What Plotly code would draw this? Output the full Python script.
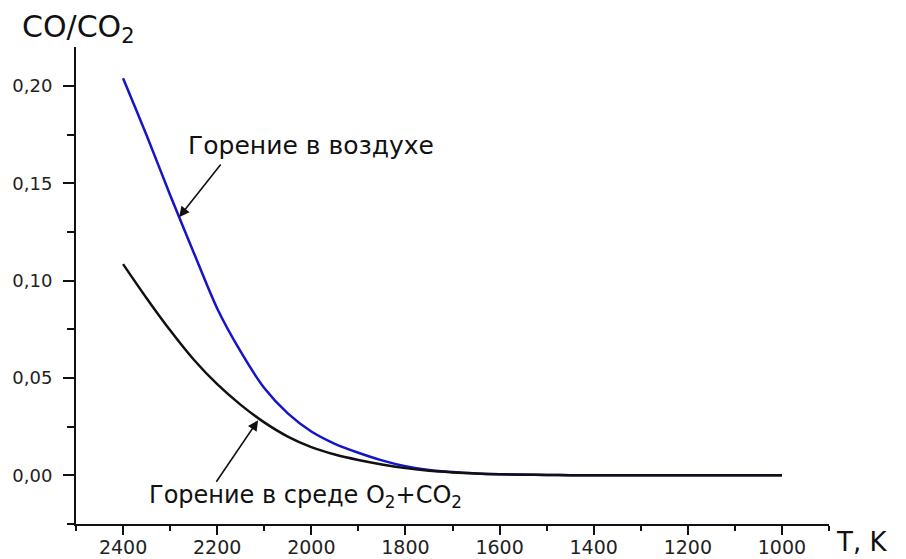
import plotly.graph_objects as go

T = [2400, 2350, 2300, 2250, 2200, 2150, 2100, 2050, 2000, 1950, 1900, 1850, 1800,
     1750, 1700, 1650, 1600, 1550, 1500, 1450, 1400, 1350, 1300, 1250, 1200, 1150,
     1100, 1050, 1000]
co_air = [0.204, 0.1747, 0.144, 0.1145, 0.0857, 0.0635, 0.0448, 0.0318, 0.0225, 0.0162,
          0.0116, 0.0077, 0.0047, 0.0028, 0.0017, 0.0010, 0.0006, 0.0004, 0.0002, 0.0001,
          0.00005, 0.00003, 0.00002, 0.00001, 0.0, 0.0, 0.0, 0.0, 0.0]
co_o2co2 = [0.1085, 0.091, 0.0745, 0.0595, 0.0468, 0.0362, 0.0272, 0.0199, 0.0145, 0.0107,
            0.0079, 0.0056, 0.0037, 0.0023, 0.0015, 0.0009, 0.0005, 0.0003, 0.0002, 0.0001,
            0.00005, 0.00003, 0.00002, 0.00001, 0.0, 0.0, 0.0, 0.0, 0.0]

x_ticks = [2400, 2200, 2000, 1800, 1600, 1400, 1200, 1000]
y_ticks = [0.00, 0.05, 0.10, 0.15, 0.20]

label_air = "Горение в воздухе"
label_o2 = "Горение в среде O<sub>2</sub>+CO<sub>2</sub>"
y_title = "CO/CO<sub>2</sub>"
x_title = "T, K"

FONT = "DejaVu Sans"

fig = go.Figure()
fig.add_trace(go.Scatter(x=T, y=co_air, mode="lines",
                         line=dict(color="#1414c8", width=2.5, shape="spline", smoothing=0.8),
                         showlegend=False))
fig.add_trace(go.Scatter(x=T, y=co_o2co2, mode="lines",
                         line=dict(color="#111111", width=2.5, shape="spline", smoothing=0.8),
                         showlegend=False))

axis_common = dict(showgrid=False, zeroline=False, showline=True, linecolor="#111111",
                   linewidth=2, ticks="outside", tickcolor="#111111", tickwidth=2,
                   automargin=False)

fig.update_xaxes(range=[2500, 900], tickvals=x_ticks, tickformat="d", ticklen=9,
                 ticklabelstandoff=-4,
                 tickfont=dict(family=FONT, size=19, color="#222222"),
                 minor=dict(dtick=100, ticks="outside", ticklen=5, tickwidth=2,
                            tickcolor="#111111", tick0=900),
                 **axis_common)
fig.update_yaxes(range=[-0.025, 0.22], tickvals=y_ticks, tickformat=".2f", ticklen=11,
                 ticklabelstandoff=7,
                 tickfont=dict(family=FONT, size=18, color="#222222"),
                 minor=dict(dtick=0.025, ticks="outside", ticklen=7, tickwidth=2,
                            tickcolor="#111111", tick0=0.025),
                 **axis_common)

annotations = [
    dict(x=-0.074, y=1.0, xref="paper", yref="paper", yshift=40, text=y_title,
         showarrow=False, xanchor="left", yanchor="top",
         font=dict(family=FONT, size=30, color="#111111")),
    dict(x=1.0, y=0, xref="paper", yref="paper", xshift=6, yshift=-18, text=x_title,
         showarrow=False, xanchor="left", yanchor="middle", borderpad=0,
         font=dict(family=FONT, size=26, color="#111111")),
    dict(x=2266, y=0.1696, xref="x", yref="y", text=label_air, showarrow=False,
         xanchor="left", yanchor="middle",
         font=dict(family=FONT, size=25, color="#111111")),
    dict(x=2349, y=-0.0108, xref="x", yref="y", text=label_o2, showarrow=False,
         xanchor="left", yanchor="middle",
         font=dict(family=FONT, size=24, color="#111111")),
    dict(x=2281, y=0.1326, ax=2190, ay=0.1604, xref="x", yref="y", axref="x", ayref="y",
         text="", showarrow=True, arrowhead=2, arrowsize=1.3, arrowwidth=1.6,
         arrowcolor="#111111"),
    dict(x=2113, y=0.0283, ax=2204, ay=-0.0041, xref="x", yref="y", axref="x", ayref="y",
         text="", showarrow=True, arrowhead=2, arrowsize=1.3, arrowwidth=1.6,
         arrowcolor="#111111"),
]

fig.update_layout(width=906, height=559, margin=dict(l=76, r=77, t=47, b=35),
                  plot_bgcolor="white", paper_bgcolor="white", separators=", ",
                  annotations=annotations)

fig.write_html("out.html", config={"displayModeBar": False},
               post_script="document.body.style.margin='0';document.body.style.overflow='hidden';")
